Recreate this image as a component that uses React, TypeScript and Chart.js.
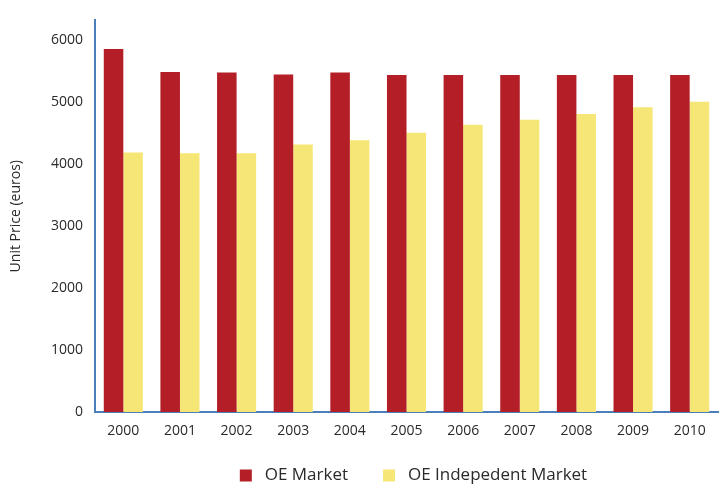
import React, { useEffect, useRef } from "react";
import { Chart, registerables } from "chart.js";

Chart.register(...registerables);

const years = ["2000", "2001", "2002", "2003", "2004", "2005", "2006", "2007", "2008", "2009", "2010"];
const oeMarket = [5850, 5480, 5470, 5440, 5470, 5430, 5430, 5430, 5430, 5430, 5430];
const oeIndependent = [4180, 4170, 4170, 4310, 4380, 4500, 4630, 4710, 4800, 4910, 5000];
const yTicks = [0, 1000, 2000, 3000, 4000, 5000, 6000];

const FONT = "'Open Sans', 'DejaVu Sans', sans-serif";
const AXIS_BLUE = "#4a7fbc";
const TEXT = "#2a2a2a";

const shiftLegend = {
  id: "shiftLegend",
  afterLayout(chart: any) {
    const l = chart.legend;
    if (l) {
      l.left += 7;
      l.right += 7;
      l.top -= 10;
      l.bottom -= 10;
    }
  },
};

export default function App() {
  const ref = useRef<HTMLCanvasElement | null>(null);

  useEffect(() => {
    if (!ref.current) return;
    const chart = new Chart(ref.current, {
      type: "bar",
      data: {
        labels: years,
        datasets: [
          {
            label: "OE Market",
            data: oeMarket,
            backgroundColor: "#b41f27",
            categoryPercentage: 0.69,
            barPercentage: 1.0,
          },
          {
            label: "OE Indepedent Market",
            data: oeIndependent,
            backgroundColor: "#f6e675",
            categoryPercentage: 0.69,
            barPercentage: 1.0,
          },
        ],
      },
      options: {
        animation: false,
        responsive: true,
        maintainAspectRatio: false,
        layout: { padding: { top: 10, right: 7, left: 0, bottom: -14 } },
        plugins: {
          tooltip: { enabled: false },
          legend: {
            position: "bottom",
            fullSize: false,
            labels: {
              boxWidth: 12,
              boxHeight: 12,
              padding: 35,
              color: TEXT,
              font: { family: FONT, size: 17 },
              generateLabels: (c: any) =>
                (Chart.defaults.plugins.legend.labels as any)
                  .generateLabels(c)
                  .map((it: any) => ({ ...it, text: " " + it.text, lineWidth: 0 })),
            },
          },
        },
        scales: {
          x: {
            grid: { display: false, drawTicks: false },
            border: { display: true, color: AXIS_BLUE, width: 2 },
            ticks: {
              color: TEXT,
              font: { family: FONT, size: 14 },
              padding: 11,
              maxRotation: 0,
            },
            afterFit: (s: any) => {
              s.height = 30;
            },
          },
          y: {
            min: 0,
            max: 6310,
            grid: { display: false, drawTicks: false },
            border: { display: true, color: AXIS_BLUE, width: 2 },
            afterBuildTicks: (s: any) => {
              s.ticks = yTicks.map((v) => ({ value: v }));
            },
            ticks: {
              color: TEXT,
              font: { family: FONT, size: 14 },
              padding: 12,
              callback: (v: any) => String(v),
            },
            title: {
              display: true,
              text: "Unit Price (euros)",
              color: TEXT,
              font: { family: FONT, size: 14 },
              padding: { top: 8, bottom: 0 },
            },
            afterFit: (s: any) => {
              s.width = 95;
            },
          },
        },
      },
      plugins: [shiftLegend],
    } as any);
    return () => chart.destroy();
  }, []);

  return (
    <div style={{ position: "absolute", left: 0, top: 0, width: 725, height: 490, background: "#fff" }}>
      <canvas ref={ref} />
    </div>
  );
}
